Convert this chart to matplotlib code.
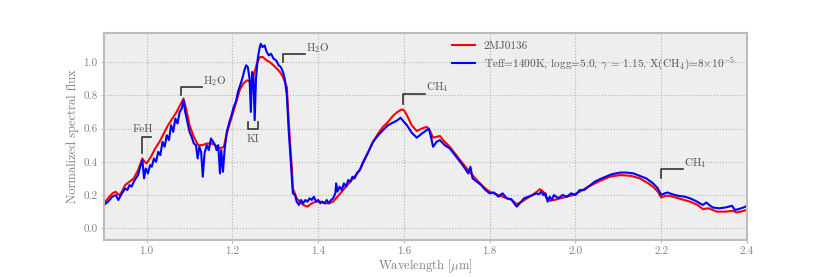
import matplotlib
matplotlib.use("Agg")
import matplotlib.pyplot as plt

plt.rcParams['font.family'] = 'serif'
plt.rcParams['font.serif'] = ['cmr10', 'DejaVu Serif']
plt.rcParams['mathtext.fontset'] = 'cm'
plt.rcParams['axes.formatter.use_mathtext'] = True

# Observed spectrum (2MJ0136)
wl_obs = [0.900,0.910,0.920,0.928,0.935,0.940,0.950,0.960,0.970,0.980,0.990,0.995,1.000,1.010,1.020,1.030,1.040,1.050,1.060,1.070,1.080,1.086,1.092,1.100,1.110,1.120,1.130,1.140,1.150,1.160,1.170,1.180,1.187,1.195,1.201,1.210,1.217,1.225,1.234,1.245,1.257,1.264,1.271,1.280,1.287,1.296,1.304,1.311,1.318,1.327,1.330,1.334,1.339,1.341,1.350,1.357,1.365,1.375,1.385,1.395,1.405,1.415,1.425,1.435,1.445,1.455,1.465,1.475,1.485,1.497,1.510,1.528,1.540,1.551,1.563,1.574,1.585,1.595,1.600,1.607,1.618,1.630,1.642,1.653,1.660,1.668,1.676,1.684,1.695,1.707,1.722,1.737,1.753,1.770,1.785,1.800,1.820,1.840,1.852,1.863,1.875,1.887,1.900,1.910,1.917,1.925,1.933,1.940,1.950,1.965,1.980,1.995,2.010,2.030,2.057,2.080,2.104,2.130,2.150,2.170,2.181,2.192,2.200,2.210,2.220,2.240,2.267,2.285,2.297,2.310,2.330,2.350,2.367,2.375,2.385,2.400]
flux_obs = [0.15,0.18,0.21,0.22,0.20,0.21,0.26,0.28,0.30,0.35,0.42,0.40,0.39,0.43,0.48,0.52,0.57,0.62,0.66,0.70,0.75,0.78,0.72,0.62,0.55,0.50,0.50,0.51,0.51,0.50,0.48,0.49,0.57,0.64,0.69,0.77,0.83,0.87,0.89,0.88,0.99,1.03,1.03,1.01,1.00,0.98,0.96,0.94,0.91,0.85,0.70,0.53,0.35,0.24,0.18,0.16,0.14,0.13,0.15,0.16,0.16,0.15,0.15,0.16,0.19,0.22,0.25,0.28,0.31,0.35,0.42,0.52,0.57,0.61,0.64,0.675,0.70,0.715,0.71,0.68,0.62,0.585,0.60,0.61,0.59,0.545,0.55,0.555,0.52,0.49,0.44,0.39,0.34,0.29,0.25,0.22,0.20,0.18,0.17,0.145,0.16,0.18,0.20,0.22,0.235,0.22,0.18,0.165,0.17,0.18,0.19,0.20,0.22,0.25,0.285,0.31,0.32,0.315,0.30,0.27,0.25,0.22,0.185,0.195,0.195,0.18,0.16,0.14,0.115,0.12,0.10,0.10,0.105,0.095,0.10,0.11]

# Model spectrum
wl_mod = [0.900,0.910,0.920,0.928,0.934,0.940,0.945,0.950,0.955,0.960,0.965,0.970,0.975,0.980,0.985,0.990,0.994,0.998,1.003,1.008,1.012,1.017,1.022,1.027,1.032,1.037,1.042,1.047,1.052,1.057,1.062,1.067,1.072,1.077,1.082,1.086,1.090,1.095,1.100,1.105,1.110,1.115,1.119,1.123,1.127,1.131,1.135,1.140,1.145,1.150,1.155,1.160,1.163,1.167,1.171,1.174,1.178,1.182,1.187,1.193,1.198,1.203,1.208,1.213,1.218,1.223,1.228,1.232,1.236,1.240,1.243,1.246,1.249,1.252,1.255,1.259,1.263,1.266,1.270,1.275,1.280,1.285,1.290,1.296,1.302,1.308,1.313,1.318,1.322,1.327,1.331,1.336,1.339,1.341,1.346,1.350,1.355,1.360,1.365,1.370,1.375,1.380,1.385,1.390,1.395,1.400,1.405,1.410,1.415,1.420,1.425,1.430,1.435,1.440,1.442,1.445,1.450,1.455,1.460,1.465,1.470,1.475,1.480,1.485,1.490,1.497,1.505,1.515,1.528,1.540,1.551,1.563,1.574,1.585,1.592,1.600,1.607,1.618,1.630,1.642,1.653,1.658,1.663,1.668,1.676,1.684,1.695,1.707,1.722,1.737,1.750,1.755,1.760,1.770,1.780,1.790,1.800,1.810,1.820,1.830,1.840,1.850,1.857,1.863,1.870,1.880,1.890,1.900,1.908,1.915,1.920,1.925,1.930,1.935,1.940,1.945,1.950,1.960,1.970,1.980,1.990,2.000,2.010,2.020,2.030,2.045,2.057,2.070,2.085,2.104,2.120,2.135,2.150,2.165,2.181,2.192,2.200,2.208,2.215,2.225,2.240,2.255,2.267,2.280,2.290,2.297,2.305,2.312,2.320,2.335,2.350,2.365,2.372,2.380,2.392,2.400]
flux_mod = [0.14,0.16,0.19,0.20,0.17,0.20,0.22,0.24,0.23,0.26,0.25,0.28,0.30,0.32,0.37,0.41,0.30,0.36,0.33,0.38,0.37,0.42,0.40,0.46,0.44,0.52,0.49,0.56,0.53,0.62,0.58,0.66,0.63,0.70,0.72,0.77,0.70,0.64,0.58,0.55,0.51,0.50,0.42,0.49,0.46,0.31,0.45,0.50,0.47,0.54,0.52,0.50,0.47,0.50,0.33,0.47,0.34,0.48,0.58,0.64,0.68,0.73,0.76,0.82,0.86,0.90,0.95,0.98,0.97,0.90,0.70,0.94,0.91,0.65,0.90,1.02,1.08,1.11,1.09,1.10,1.06,1.04,1.05,1.02,1.01,0.98,0.97,0.94,0.90,0.80,0.60,0.40,0.29,0.21,0.20,0.16,0.14,0.17,0.15,0.17,0.16,0.18,0.17,0.19,0.16,0.17,0.15,0.16,0.15,0.17,0.15,0.17,0.18,0.21,0.27,0.22,0.25,0.23,0.27,0.25,0.29,0.28,0.31,0.30,0.33,0.35,0.40,0.45,0.52,0.56,0.59,0.62,0.635,0.65,0.665,0.64,0.62,0.575,0.545,0.57,0.59,0.60,0.55,0.49,0.52,0.53,0.50,0.48,0.43,0.38,0.33,0.37,0.30,0.28,0.26,0.23,0.21,0.215,0.19,0.21,0.18,0.175,0.15,0.13,0.15,0.18,0.19,0.20,0.21,0.205,0.22,0.20,0.21,0.16,0.19,0.17,0.20,0.18,0.20,0.19,0.21,0.20,0.23,0.23,0.25,0.28,0.295,0.31,0.325,0.335,0.335,0.33,0.315,0.30,0.27,0.24,0.20,0.21,0.215,0.205,0.195,0.19,0.18,0.165,0.15,0.14,0.155,0.14,0.125,0.12,0.125,0.135,0.11,0.115,0.125,0.135]

label_obs = '2MJ0136'
label_mod = r'Teff=1400K, logg=5.0, $\gamma$ = 1.15, X(CH$_4$)=8$\times$10$^{-5}$'

# Feature markers: (x of tick, y bottom, y top, x end, label)
features = [
    (0.989, 0.45, 0.55, 1.010, 'FeH'),
    (1.080, 0.80, 0.85, 1.129, r'H$_2$O'),
    (1.318, 1.00, 1.05, 1.369, r'H$_2$O'),
    (1.598, 0.75, 0.81, 1.649, r'CH$_4$'),
    (2.200, 0.30, 0.355, 2.250, r'CH$_4$'),
]

fig = plt.figure(figsize=(8.3, 2.77), dpi=100)
ax = fig.add_axes([0.125, 0.134, 0.775, 0.747])
ax.set_facecolor('#eeeeee')
for s in ax.spines.values():
    s.set_color('#bcbcbc')
    s.set_linewidth(1.5)
ax.grid(True, color='#b2b2b2', linestyle=':', linewidth=0.8)
ax.set_axisbelow(True)

ax.plot(wl_obs, flux_obs, color='red', lw=1.5, label=label_obs)
ax.plot(wl_mod, flux_mod, color='blue', lw=1.5, label=label_mod)

bc = '#333333'
for i, (x0, yb, yt, x1, lab) in enumerate(features):
    ax.plot([x0, x0, x1], [yb, yt, yt], color=bc, lw=1.2)
    if lab == 'FeH':
        ax.text(x0 + 0.003, yt + 0.015, lab, ha='center', va='bottom', fontsize=8, color='#555555')
    else:
        ax.text(x1 + 0.002, yt - 0.005, lab, ha='left', va='bottom', fontsize=8, color='#555555')

# KI doublet bracket
ki_x = [1.243, 1.253]
ax.plot([ki_x[0] - 0.007, ki_x[0] - 0.007, ki_x[1] + 0.007, ki_x[1] + 0.007],
        [0.64, 0.60, 0.60, 0.64], color=bc, lw=1.2)
ax.text(1.248, 0.565, 'KI', ha='center', va='top', fontsize=8, color='#555555')

ax.set_xlim(0.9, 2.4)
ax.set_ylim(-0.07, 1.175)
ax.set_xticks([1.0, 1.2, 1.4, 1.6, 1.8, 2.0, 2.2, 2.4])
ax.set_yticks([0.0, 0.2, 0.4, 0.6, 0.8, 1.0])
ax.set_xticklabels(['1.0', '1.2', '1.4', '1.6', '1.8', '2.0', '2.2', '2.4'])
ax.set_yticklabels(['0.0', '0.2', '0.4', '0.6', '0.8', '1.0'])
ax.tick_params(colors='#bcbcbc', labelcolor='#808080', labelsize=8, length=2.5, pad=2)
ax.set_xlabel(r'Wavelength [$\mu$m]', fontsize=9, color='#808080', labelpad=1)
ax.set_ylabel('Normalized spectral flux', fontsize=9, color='#808080', labelpad=3)

leg = ax.legend(loc='upper right', frameon=False, fontsize=8.1, handlelength=2.0,
                bbox_to_anchor=(0.993, 1.0), borderaxespad=0.3, labelspacing=0.4)
for t in leg.get_texts():
    t.set_color('#555555')

fig.savefig('out.png', dpi=100)
